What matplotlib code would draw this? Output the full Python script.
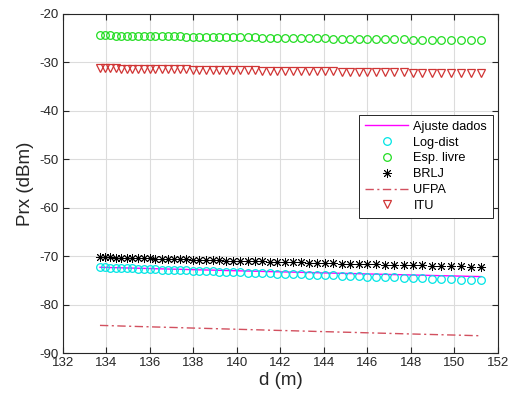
import matplotlib
matplotlib.use("Agg")
import matplotlib.pyplot as plt

d = [133.70, 133.94, 134.18, 134.43, 134.68, 134.93, 135.19, 135.45, 135.71, 135.98,
     136.25, 136.53, 136.81, 137.09, 137.38, 137.67, 137.97, 138.27, 138.57, 138.88,
     139.19, 139.51, 139.83, 140.16, 140.49, 140.82, 141.16, 141.50, 141.85, 142.20,
     142.56, 142.92, 143.29, 143.66, 144.04, 144.42, 144.81, 145.20, 145.60, 146.00,
     146.41, 146.82, 147.24, 147.66, 148.09, 148.52, 148.96, 149.40, 149.85, 150.30,
     150.76, 151.22]

esp_livre = [-24.40, -24.42, -24.43, -24.45, -24.46, -24.48, -24.50, -24.51, -24.53, -24.55,
             -24.56, -24.58, -24.60, -24.62, -24.64, -24.65, -24.67, -24.69, -24.71, -24.73,
             -24.75, -24.77, -24.79, -24.81, -24.83, -24.85, -24.87, -24.89, -24.91, -24.94,
             -24.96, -24.98, -25.00, -25.02, -25.05, -25.07, -25.09, -25.12, -25.14, -25.16,
             -25.19, -25.21, -25.24, -25.26, -25.29, -25.31, -25.34, -25.36, -25.39, -25.42,
             -25.44, -25.47]

itu = [-31.20, -31.22, -31.23, -31.25, -31.26, -31.28, -31.30, -31.31, -31.33, -31.35,
       -31.36, -31.38, -31.40, -31.42, -31.44, -31.45, -31.47, -31.49, -31.51, -31.53,
       -31.55, -31.57, -31.59, -31.61, -31.63, -31.65, -31.67, -31.69, -31.71, -31.74,
       -31.76, -31.78, -31.80, -31.82, -31.85, -31.87, -31.89, -31.92, -31.94, -31.96,
       -31.99, -32.01, -32.04, -32.06, -32.09, -32.11, -32.14, -32.16, -32.19, -32.22,
       -32.24, -32.27]

log_dist = [-72.30, -72.34, -72.38, -72.42, -72.46, -72.50, -72.54, -72.58, -72.63, -72.67,
            -72.71, -72.76, -72.80, -72.84, -72.89, -72.94, -72.98, -73.03, -73.08, -73.13,
            -73.18, -73.23, -73.27, -73.33, -73.38, -73.43, -73.48, -73.53, -73.59, -73.64,
            -73.69, -73.75, -73.81, -73.86, -73.92, -73.98, -74.03, -74.09, -74.15, -74.21,
            -74.27, -74.33, -74.40, -74.46, -74.52, -74.58, -74.65, -74.71, -74.78, -74.84,
            -74.91, -74.97]

ajuste = [-72.30, -72.33, -72.36, -72.38, -72.41, -72.44, -72.47, -72.50, -72.53, -72.56,
          -72.60, -72.63, -72.66, -72.69, -72.72, -72.76, -72.79, -72.83, -72.86, -72.89,
          -72.93, -72.97, -73.00, -73.04, -73.07, -73.11, -73.15, -73.19, -73.23, -73.26,
          -73.30, -73.34, -73.38, -73.42, -73.46, -73.51, -73.55, -73.59, -73.63, -73.68,
          -73.72, -73.76, -73.81, -73.85, -73.90, -73.94, -73.99, -74.04, -74.08, -74.13,
          -74.18, -74.22]

brlj = [-70.20, -70.23, -70.26, -70.29, -70.32, -70.35, -70.38, -70.41, -70.45, -70.48,
        -70.51, -70.55, -70.58, -70.61, -70.65, -70.68, -70.72, -70.75, -70.79, -70.83,
        -70.87, -70.90, -70.94, -70.98, -71.02, -71.06, -71.10, -71.14, -71.18, -71.22,
        -71.26, -71.30, -71.34, -71.39, -71.43, -71.47, -71.52, -71.56, -71.61, -71.65,
        -71.70, -71.74, -71.79, -71.84, -71.89, -71.93, -71.98, -72.03, -72.08, -72.13,
        -72.18, -72.23]

ufpa = [-84.30, -84.33, -84.36, -84.39, -84.43, -84.46, -84.49, -84.53, -84.56, -84.59,
        -84.63, -84.66, -84.70, -84.73, -84.77, -84.81, -84.85, -84.88, -84.92, -84.96,
        -85.00, -85.04, -85.08, -85.12, -85.16, -85.20, -85.24, -85.29, -85.33, -85.37,
        -85.41, -85.46, -85.50, -85.55, -85.59, -85.64, -85.69, -85.73, -85.78, -85.83,
        -85.88, -85.93, -85.98, -86.03, -86.08, -86.13, -86.18, -86.23, -86.28, -86.33,
        -86.39, -86.44]

x_ticks = [132, 134, 136, 138, 140, 142, 144, 146, 148, 150, 152]
y_ticks = [-90, -80, -70, -60, -50, -40, -30, -20]

plt.rcParams['font.family'] = ['Liberation Sans', 'DejaVu Sans']
plt.rcParams['axes.unicode_minus'] = False

fig = plt.figure(figsize=(5.15, 4.01), dpi=100)
ax = fig.add_axes([63/515, 1 - 353/401, 435/515, 339/401])

ax.plot(d, ajuste, color='#ff00ff', lw=1.0, label='Ajuste dados', zorder=3)
ax.plot(d, log_dist, ls='none', marker='o', ms=5.5, mfc='none', mec='#00e5e5',
        mew=0.9, label='Log-dist', zorder=3)
ax.plot(d, esp_livre, ls='none', marker='o', ms=5.5, mfc='none', mec='#22dd22',
        mew=0.9, label='Esp. livre', zorder=3)
ax.plot(d, brlj, ls='none', color='black', marker=(8, 2, 0), ms=6.5, mew=0.65,
        label='BRLJ', zorder=4)
ax.plot(d, ufpa, color='#d2505f', lw=1.0, ls=(0, (6, 2.5, 1.5, 2.5)),
        label='UFPA', zorder=3)
ax.plot(d, itu, ls='none', marker='v', ms=6, mfc='none', mec='#d03535',
        mew=0.9, label='ITU', zorder=3)

ax.set_xlim(132, 152)
ax.set_ylim(-90, -20)
ax.set_xticks(x_ticks)
ax.set_yticks(y_ticks)
ax.grid(True, color='#dcdcdc', lw=0.8)
ax.set_axisbelow(True)
ax.tick_params(direction='in', length=4, width=0.8, colors='#262626',
               labelsize=9.5, top=True, right=True, labelcolor='#262626', pad=3)
for s in ax.spines.values():
    s.set_color('#262626')
    s.set_linewidth(0.8)

ax.set_xlabel('d (m)', fontsize=13.5, color='#262626', labelpad=2)
ax.set_ylabel('Prx (dBm)', fontsize=13.5, color='#262626', labelpad=4)

leg = ax.legend(loc='upper right', bbox_to_anchor=(0.9885, 0.702), borderaxespad=0,
                fontsize=9.2, handlelength=3.4, handletextpad=0.4, labelspacing=0.3,
                fancybox=False, framealpha=1, edgecolor='#262626', borderpad=0.45)
leg.get_frame().set_linewidth(0.7)

fig.savefig('out.png', dpi=100)
